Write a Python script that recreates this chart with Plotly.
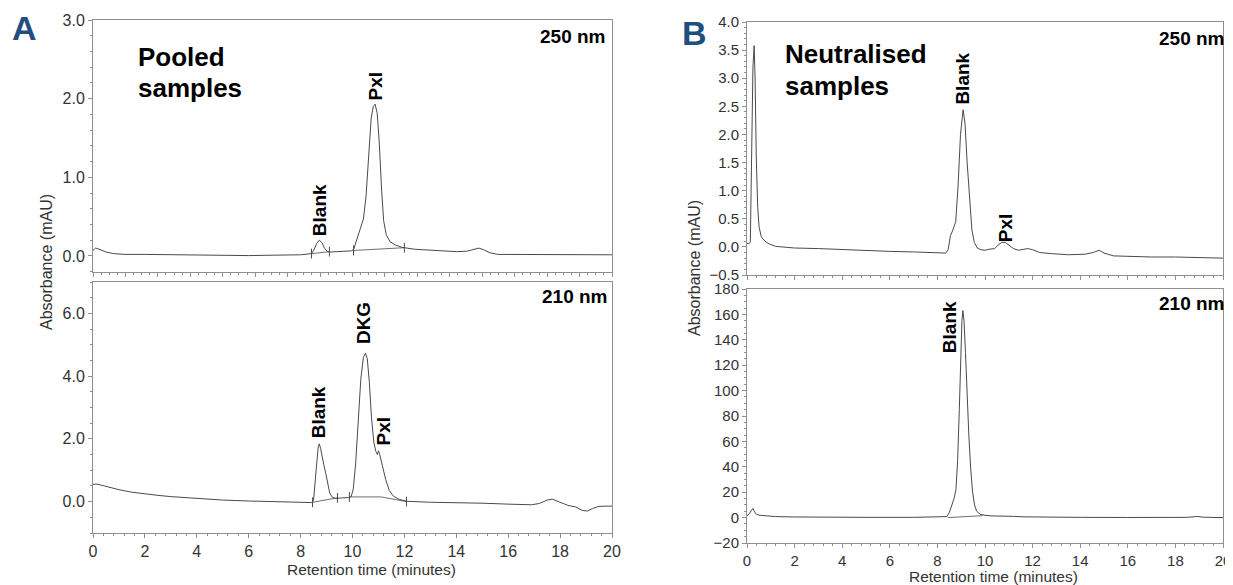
import plotly.graph_objects as go

# ---------------- data (retention time in minutes, absorbance) ----------------
# Panel A, 250 nm
a250_points = [(0, 0.07), (0.1, 0.1), (0.2, 0.09), (0.35, 0.07), (0.5, 0.05), (0.8, 0.03), (1.2, 0.02),
               (2, 0.02), (3, 0.015), (4, 0.01), (5, 0.01), (6, 0.005), (7, 0.01), (8, 0.015), (8.42, 0.03),
               (8.52, 0.08), (8.62, 0.16), (8.72, 0.2), (8.82, 0.17), (8.92, 0.1), (9.02, 0.06), (9.11, 0.05),
               (9.4, 0.055), (9.7, 0.06), (9.95, 0.065), (10.04, 0.08), (10.15, 0.2), (10.28, 0.35),
               (10.42, 0.47), (10.52, 0.75), (10.62, 1.3), (10.72, 1.75), (10.8, 1.9), (10.87, 1.93),
               (10.95, 1.82), (11.03, 1.45), (11.12, 0.85), (11.2, 0.45), (11.3, 0.27), (11.45, 0.18),
               (11.65, 0.14), (11.9, 0.11), (12.4, 0.085), (13.0, 0.075), (13.6, 0.065), (14.0, 0.055),
               (14.4, 0.06), (14.7, 0.085), (14.87, 0.1), (15.05, 0.08), (15.3, 0.04), (15.6, 0.02),
               (16.5, 0.02), (17.5, 0.015), (18.5, 0.015), (19.5, 0.015), (20, 0.015)]
a250_baseline = [(8.42, 0.03), (9.11, 0.055), None, (10.04, 0.07), (12.0, 0.105)]
a250_marks = [(8.42, 0.03), (9.11, 0.055), (10.04, 0.07), (12.0, 0.105)]

# Panel A, 210 nm
a210_points = [(0, 0.55), (0.15, 0.56), (0.3, 0.53), (0.6, 0.46), (1.0, 0.38), (1.5, 0.3), (2, 0.24),
               (2.5, 0.2), (3, 0.16), (4, 0.1), (5, 0.05), (6, 0.02), (7, 0.0), (8, -0.02), (8.42, -0.03),
               (8.5, 0.05), (8.57, 0.6), (8.63, 1.3), (8.68, 1.75), (8.72, 1.84), (8.77, 1.7), (8.83, 1.4),
               (8.9, 1.15), (8.97, 0.9), (9.05, 0.55), (9.12, 0.28), (9.22, 0.14), (9.35, 0.1), (9.6, 0.12),
               (9.85, 0.13), (9.95, 0.16), (10.03, 0.4), (10.12, 1.2), (10.22, 2.6), (10.32, 3.9),
               (10.42, 4.6), (10.5, 4.73), (10.57, 4.55), (10.65, 3.8), (10.73, 2.7), (10.82, 1.9),
               (10.9, 1.6), (10.96, 1.5), (11.0, 1.62), (11.05, 1.5), (11.15, 1.15), (11.28, 0.7),
               (11.42, 0.35), (11.58, 0.17), (11.8, 0.07), (12.1, 0.01), (13, -0.02), (14, -0.03),
               (15, -0.05), (16, -0.08), (16.9, -0.1), (17.2, -0.06), (17.5, 0.05), (17.7, 0.08),
               (17.95, 0.0), (18.3, -0.12), (18.6, -0.17), (18.85, -0.28), (19.05, -0.3), (19.25, -0.22),
               (19.5, -0.15), (20, -0.14)]
a210_baseline = [(8.46, -0.02), (9.42, 0.12), None, (9.88, 0.15), (11.1, 0.15), (12.08, 0.0)]
a210_marks = [(8.46, -0.02), (9.42, 0.12), (9.88, 0.15), (12.08, 0.0)]

# Panel B, 250 nm
b250_points = [(0, 0.06), (0.08, 0.06), (0.14, 0.08), (0.2, 1.5), (0.25, 3.2), (0.3, 3.58), (0.34, 3.0),
               (0.39, 1.6), (0.45, 0.7), (0.51, 0.35), (0.6, 0.18), (0.75, 0.1), (0.95, 0.05), (1.2, 0.01),
               (1.6, -0.01), (2, -0.02), (3, -0.03), (4, -0.05), (5, -0.06), (6, -0.08), (7, -0.09),
               (8, -0.1), (8.35, -0.11), (8.45, -0.05), (8.55, 0.2), (8.65, 0.3), (8.77, 0.45), (8.87, 1.1),
               (8.97, 2.0), (9.08, 2.44), (9.16, 2.2), (9.25, 1.5), (9.35, 0.8), (9.45, 0.3), (9.55, 0.08),
               (9.68, -0.02), (9.83, -0.05), (10.0, -0.06), (10.2, -0.04), (10.4, -0.03), (10.55, 0.03),
               (10.7, 0.08), (10.85, 0.08), (11.0, 0.03), (11.2, -0.03), (11.4, -0.06), (11.6, -0.05),
               (11.8, -0.03), (12.0, -0.05), (12.3, -0.1), (12.8, -0.12), (13.5, -0.14), (14.2, -0.13),
               (14.55, -0.1), (14.8, -0.06), (15.0, -0.11), (15.4, -0.16), (16, -0.17), (17, -0.18),
               (18, -0.18), (19, -0.19), (20, -0.2)]

# Panel B, 210 nm
b210_points = [(0, 1.5), (0.1, 3), (0.18, 5.5), (0.25, 7.2), (0.32, 4.5), (0.4, 2.5), (0.55, 1.8),
               (0.8, 1.2), (1.2, 0.8), (2, 0.5), (3, 0.3), (5, 0.2), (7, 0.2), (8.2, 0.3), (8.4, 0.8),
               (8.5, 4), (8.6, 9), (8.7, 15), (8.78, 22), (8.85, 45), (8.92, 85), (8.98, 125), (9.03, 155),
               (9.07, 163), (9.12, 155), (9.18, 130), (9.25, 95), (9.32, 65), (9.4, 38), (9.48, 20),
               (9.56, 10), (9.65, 5), (9.8, 2.6), (10.0, 1.8), (10.3, 1.3), (10.7, 1.2), (10.95, 1.6),
               (11.2, 1.0), (11.6, 0.6), (12.5, 0.3), (14, 0.2), (16, 0.1), (18.5, 0.2), (18.9, 0.9),
               (19.2, 0.3), (20, 0.0)]
b210_baseline = [(8.44, 0.0), (9.9, 1.5)]

# Peak labels: (text, retention time, absorbance of label centre)
a250_labels = [("Blank", 8.74, 0.58), ("Pxl", 10.88, 2.16)]
a210_labels = [("Blank", 8.69, 2.83), ("DKG", 10.43, 5.68), ("Pxl", 11.19, 2.25)]
b250_labels = [("Blank", 9.05, 3.0), ("Pxl", 10.86, 0.34)]
b210_labels = [("Blank", 8.49, 150)]

x_ticks = list(range(0, 21, 2))
a250_yticks = [0, 1, 2, 3]
a210_yticks = [0, 2, 4, 6]
b250_yticks = [-0.5, 0, 0.5, 1.0, 1.5, 2.0, 2.5, 3.0, 3.5, 4.0]
b210_yticks = [-20, 0, 20, 40, 60, 80, 100, 120, 140, 160, 180]

# ---------------- figure ----------------
OFF = 8  # page body margin of the html page
W, H = 1233 - OFF, 585 - OFF
FONT = "Liberation Sans, Arial, sans-serif"
LINE = "#4a4a4a"
AXC = "#8f8f8f"
TXT = "#333333"


def fx(p):
    return (p - OFF) / W


def fy(p):
    return 1 - (p - OFF) / H


def split(pts):
    xs, ys = [], []
    for p in pts:
        if p is None:
            xs.append(None)
            ys.append(None)
        else:
            xs.append(p[0])
            ys.append(p[1])
    return xs, ys


fig = go.Figure()


def add_curve(pts, xa, ya, width=1.0):
    xs, ys = split(pts)
    fig.add_trace(go.Scatter(x=xs, y=ys, mode="lines", xaxis=xa, yaxis=ya,
                             line=dict(color=LINE, width=width), showlegend=False, hoverinfo="skip"))


def add_marks(pts, xa, ya):
    xs, ys = split(pts)
    fig.add_trace(go.Scatter(x=xs, y=ys, mode="markers", xaxis=xa, yaxis=ya,
                             marker=dict(symbol="line-ns", size=7, line=dict(color=LINE, width=1)),
                             showlegend=False, hoverinfo="skip"))


add_curve(a250_points, "x", "y")
add_curve(a250_baseline, "x", "y", 0.8)
add_marks(a250_marks, "x", "y")
add_curve(a210_points, "x2", "y2")
add_curve(a210_baseline, "x2", "y2", 0.8)
add_marks(a210_marks, "x2", "y2")
add_curve(b250_points, "x3", "y3")
add_curve(b210_points, "x4", "y4")
add_curve(b210_baseline, "x4", "y4", 0.8)

base_axis = dict(showline=True, linecolor=AXC, linewidth=1, mirror=True, ticks="outside",
                 ticklen=4, tickcolor=AXC, showgrid=False, zeroline=False, automargin=False,
                 tickfont=dict(size=16, color=TXT, family=FONT))
b_axis = dict(base_axis, tickfont=dict(size=15, color=TXT, family=FONT))

A_dom = [fx(93), fx(612)]
B_dom = [fx(747), fx(1223)]

fig.update_layout(
    width=W, height=H, margin=dict(l=0, r=0, t=0, b=0),
    paper_bgcolor="white", plot_bgcolor="white", template="none",
    xaxis=dict(base_axis, domain=A_dom, anchor="y", range=[0, 20], showticklabels=False,
               dtick=1.25, minor=dict(ticks="outside", ticklen=2, dtick=0.3125, tickcolor=AXC)),
    yaxis=dict(base_axis, domain=[fy(271.7), fy(20)], anchor="x", range=[-0.2, 3.0],
               tickvals=a250_yticks, tickformat=".1f",
               minor=dict(ticks="outside", ticklen=2, dtick=0.2, tickcolor=AXC)),
    xaxis2=dict(base_axis, domain=A_dom, anchor="y2", range=[0, 20], tickvals=x_ticks,
                minor=dict(ticks="outside", ticklen=2, dtick=0.4, tickcolor=AXC)),
    yaxis2=dict(base_axis, domain=[fy(533), fy(282)], anchor="x2", range=[-1, 7],
                tickvals=a210_yticks, tickformat=".1f",
                minor=dict(ticks="outside", ticklen=2, dtick=0.5, tickcolor=AXC)),
    xaxis3=dict(b_axis, domain=B_dom, anchor="y3", range=[0, 20], showticklabels=False,
                dtick=2, minor=dict(ticks="outside", ticklen=2, dtick=0.4, tickcolor=AXC)),
    yaxis3=dict(b_axis, domain=[fy(275), fy(22)], anchor="x3", range=[-0.5, 4.0],
                tickvals=b250_yticks, tickformat=".1f",
                minor=dict(ticks="outside", ticklen=2, dtick=0.1, tickcolor=AXC)),
    xaxis4=dict(b_axis, domain=B_dom, anchor="y4", range=[0, 20], tickvals=x_ticks,
                minor=dict(ticks="outside", ticklen=2, dtick=0.4, tickcolor=AXC)),
    yaxis4=dict(b_axis, domain=[fy(543), fy(289)], anchor="x4", range=[-20, 180],
                tickvals=b210_yticks,
                minor=dict(ticks="outside", ticklen=2, dtick=5, tickcolor=AXC)),
)

ann = []


def paper_text(text, x, y, size, xanchor="center", yanchor="middle", bold=False,
               color="black", angle=0):
    ann.append(dict(text=("<b>%s</b>" % text) if bold else text, x=fx(x), y=fy(y),
                    xref="paper", yref="paper", showarrow=False, xanchor=xanchor,
                    yanchor=yanchor, textangle=angle,
                    font=dict(size=size, color=color, family=FONT)))


def peak_labels(labels, xr, yr):
    for text, t, a in labels:
        ann.append(dict(text="<b>%s</b>" % text, x=t, y=a, xref=xr, yref=yr, showarrow=False,
                        textangle=-90, font=dict(size=19, color="black", family=FONT)))


peak_labels(a250_labels, "x", "y")
peak_labels(a210_labels, "x2", "y2")
peak_labels(b250_labels, "x3", "y3")
peak_labels(b210_labels, "x4", "y4")

paper_text("A", 24, 28, 34, bold=True, color="#1f4f80")
paper_text("B", 695, 33, 34, bold=True, color="#1f4f80")
paper_text("Pooled", 136, 57, 26, xanchor="left", bold=True)
paper_text("samples", 136, 88, 26, xanchor="left", bold=True)
paper_text("Neutralised", 783, 54, 26, xanchor="left", bold=True)
paper_text("samples", 783, 86, 26, xanchor="left", bold=True)
paper_text("250 nm", 607, 36, 19, xanchor="right", bold=True)
paper_text("210 nm", 609, 296, 19, xanchor="right", bold=True)
paper_text("250 nm", 1226, 39, 19, xanchor="right", bold=True)
paper_text("210 nm", 1226, 303, 19, xanchor="right", bold=True)
paper_text("Absorbance (mAU)", 46, 262, 16, color=TXT, angle=-90)
paper_text("Absorbance (mAU)", 694, 268, 16, color=TXT, angle=-90)
paper_text("Retention time (minutes)", 371, 569, 15.5, color=TXT)
paper_text("Retention time (minutes)", 993, 576, 15.5, color=TXT)

fig.update_layout(annotations=ann)
fig.write_html("out.html")
